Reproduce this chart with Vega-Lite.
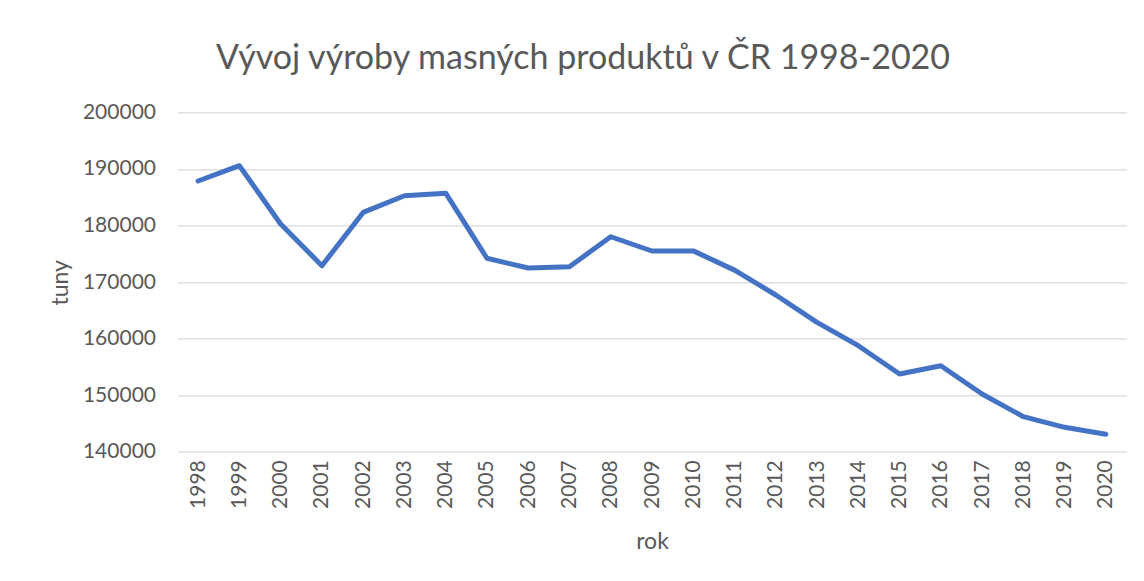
{
  "$schema": "https://vega.github.io/schema/vega-lite/v6.json",
  "autosize": {"type": "none"},
  "width": 949,
  "height": 339.4,
  "padding": {"left": 177.5, "top": 112.3, "right": 17.5, "bottom": 129.3},
  "background": "white",
  "title": {
    "text": "Vývoj výroby masných produktů v ČR 1998-2020",
    "font": "Lato",
    "fontSize": 34,
    "fontWeight": "normal",
    "color": "#595959",
    "anchor": "middle",
    "frame": "group",
    "dx": -69,
    "baseline": "alphabetic",
    "offset": -2
  },
  "data": {
    "values": [
      {"rok": "1998", "tuny": 187850},
      {"rok": "1999", "tuny": 190560},
      {"rok": "2000", "tuny": 180250},
      {"rok": "2001", "tuny": 172880},
      {"rok": "2002", "tuny": 182300},
      {"rok": "2003", "tuny": 185250},
      {"rok": "2004", "tuny": 185700},
      {"rok": "2005", "tuny": 174200},
      {"rok": "2006", "tuny": 172470},
      {"rok": "2007", "tuny": 172700},
      {"rok": "2008", "tuny": 178000},
      {"rok": "2009", "tuny": 175480},
      {"rok": "2010", "tuny": 175500},
      {"rok": "2011", "tuny": 172100},
      {"rok": "2012", "tuny": 167700},
      {"rok": "2013", "tuny": 162870},
      {"rok": "2014", "tuny": 158740},
      {"rok": "2015", "tuny": 153730},
      {"rok": "2016", "tuny": 155200},
      {"rok": "2017", "tuny": 150200},
      {"rok": "2018", "tuny": 146190},
      {"rok": "2019", "tuny": 144310},
      {"rok": "2020", "tuny": 143080}
    ]
  },
  "mark": {"type": "line", "color": "#4472C4", "strokeWidth": 5, "strokeCap": "round", "strokeJoin": "round"},
  "encoding": {
    "x": {
      "field": "rok",
      "type": "ordinal",
      "scale": {"type": "point", "padding": 0.5},
      "axis": {
        "title": "rok",
        "labelAngle": 270,
        "labelAlign": "right",
        "labelBaseline": "middle",
        "labelPadding": 8,
        "labelFont": "Lato",
        "labelFontSize": 21,
        "labelColor": "#595959",
        "ticks": false,
        "domain": false,
        "grid": false,
        "titleFont": "Lato",
        "titleFontSize": 23,
        "titleFontWeight": "normal",
        "titleColor": "#595959",
        "titleBaseline": "alphabetic",
        "titleY": 97
      }
    },
    "y": {
      "field": "tuny",
      "type": "quantitative",
      "scale": {"domain": [140000, 200000], "nice": false, "zero": false},
      "axis": {
        "title": "tuny",
        "values": [140000, 150000, 160000, 170000, 180000, 190000, 200000],
        "format": "d",
        "labelFont": "Lato",
        "labelFontSize": 21,
        "labelColor": "#595959",
        "labelPadding": 22,
        "ticks": false,
        "domain": false,
        "grid": true,
        "gridColor": "#d9d9d9",
        "gridWidth": 1.3,
        "titleFont": "Lato",
        "titleFontSize": 23,
        "titleFontWeight": "normal",
        "titleColor": "#595959",
        "titleAngle": 270,
        "titleAlign": "center",
        "titleBaseline": "alphabetic",
        "titleX": -110,
        "titleY": 170
      }
    }
  },
  "config": {"view": {"stroke": null}}
}
